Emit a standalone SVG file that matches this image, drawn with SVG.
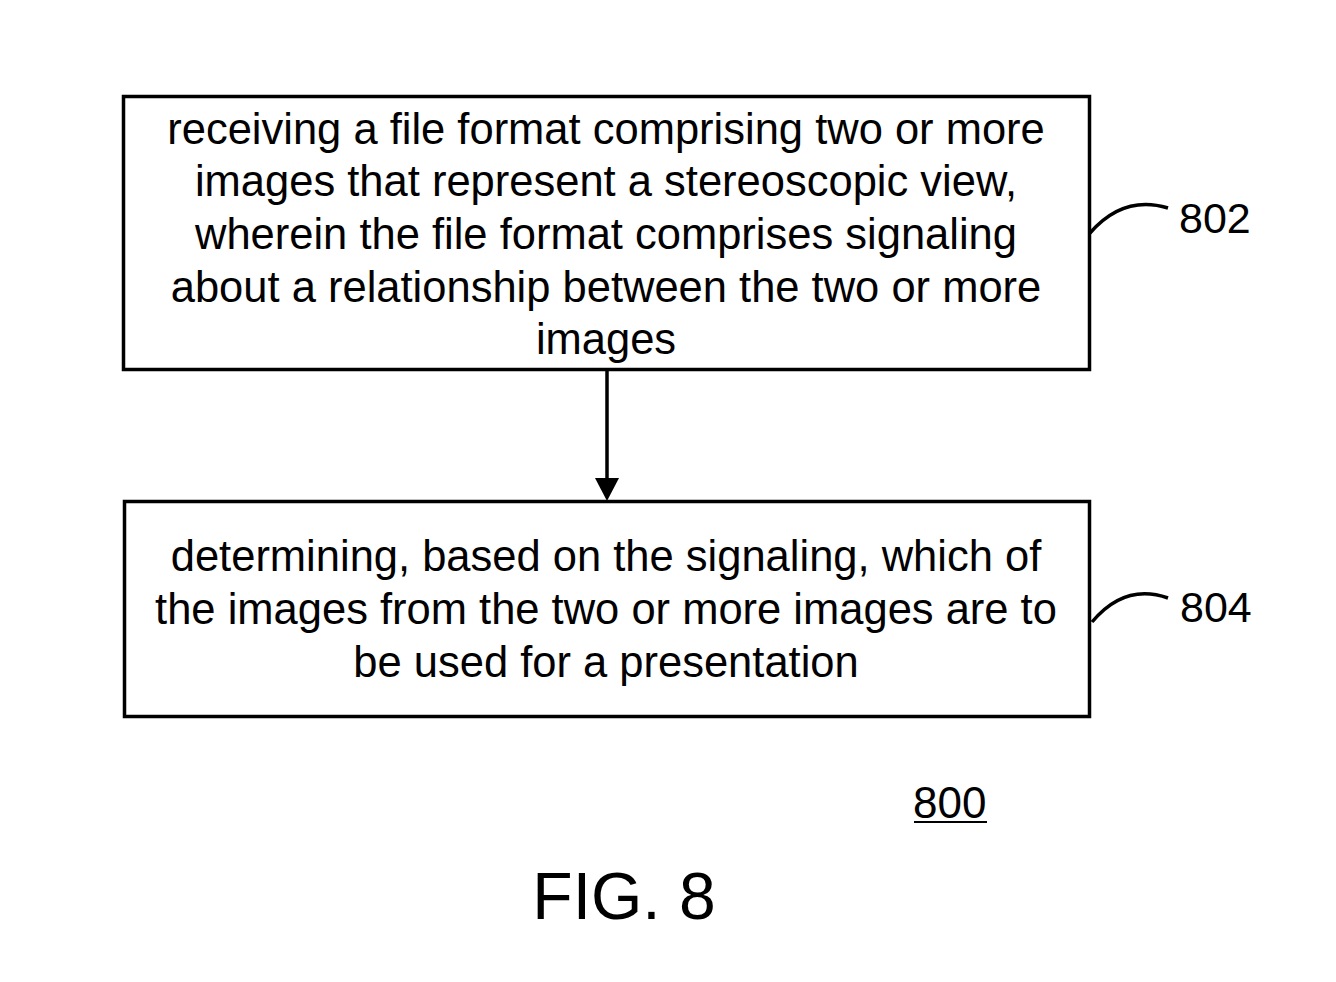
<svg xmlns="http://www.w3.org/2000/svg" width="1336" height="982" viewBox="0 0 1336 982">
<style>
.box{fill:#fff;stroke:#000;stroke-width:3.5}
.t{font-family:"Liberation Sans",Arial,sans-serif;font-size:43.5px;fill:#000;text-anchor:middle}
.lbl{font-family:"Liberation Sans",Arial,sans-serif;font-size:43px;fill:#000}
.lead{fill:none;stroke:#000;stroke-width:3.5}
</style>
<rect width="1336" height="982" fill="#fff"/>
<g id="n802">
<rect class="box" x="123.5" y="96.5" width="966" height="273"/>
<text class="t" x="606" y="144">receiving a file format comprising two or more</text>
<text class="t" x="606" y="196">images that represent a stereoscopic view,</text>
<text class="t" x="606" y="249">wherein the file format comprises signaling</text>
<text class="t" x="606" y="302">about a relationship between the two or more</text>
<text class="t" x="606" y="354">images</text>
<path class="lead" d="M1090,233 C1110,210 1135,198 1168,208"/>
<text class="lbl" x="1179" y="233">802</text>
</g>
<g id="n804">
<rect class="box" x="124.5" y="501.5" width="965" height="215"/>
<text class="t" x="606" y="571">determining, based on the signaling, which of</text>
<text class="t" x="606" y="624">the images from the two or more images are to</text>
<text class="t" x="606" y="677">be used for a presentation</text>
<path class="lead" d="M1092,622 C1112,598 1137,587 1168,598"/>
<text class="lbl" x="1180" y="622">804</text>
</g>
<g id="connectors">
<line x1="607" y1="370" x2="607" y2="480" stroke="#000" stroke-width="3.5"/>
<path d="M595,478 L619,478 L607,501 Z" fill="#000"/>
</g>
<g id="labels">
<text class="lbl" x="913" y="818" style="font-size:44px">800</text>
<line x1="914" y1="822" x2="987" y2="822" stroke="#000" stroke-width="2"/>
<text class="lbl" x="624" y="919" style="font-size:66px;text-anchor:middle">FIG. 8</text>
</g>
</svg>
